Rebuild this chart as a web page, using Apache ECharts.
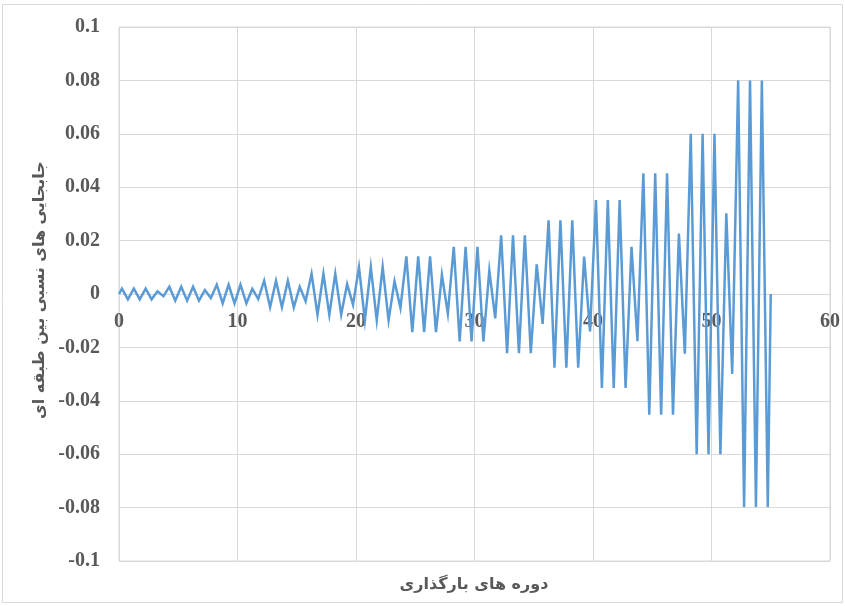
<!DOCTYPE html>
<html>
<head>
<meta charset="utf-8">
<script src="https://cdn.jsdelivr.net/npm/echarts@6/dist/echarts.min.js"></script>
<style>html,body{margin:0;padding:0;background:#fff;}#c{width:845px;height:606px;}</style>
</head>
<body>
<div id="c"></div>
<script>
// One peak and one trough per loading cycle (55 cycles)
const peaks = [
  0.0020, 0.0020, 0.0020, 0.0010,
  0.0027, 0.0027, 0.0027, 0.0015,
  0.0035, 0.0035, 0.0035, 0.0019,
  0.0050, 0.0050, 0.0050, 0.0027,
  0.0076, 0.0076, 0.0076, 0.0037,
  0.0101, 0.0101, 0.0101, 0.0048,
  0.0141, 0.0141, 0.0141, 0.0072,
  0.0177, 0.0177, 0.0177, 0.0088,
  0.0220, 0.0220, 0.0220, 0.0111,
  0.0276, 0.0276, 0.0276, 0.0140,
  0.0352, 0.0352, 0.0352, 0.0177,
  0.0452, 0.0452, 0.0452, 0.0226,
  0.0600, 0.0600, 0.0600, 0.0302,
  0.0800, 0.0800, 0.0800
];
const troughs = [
  -0.0020, -0.0020, -0.0020, -0.0008,
  -0.0025, -0.0025, -0.0025, -0.0015,
  -0.0035, -0.0035, -0.0035, -0.0019,
  -0.0050, -0.0050, -0.0050, -0.0027,
  -0.0078, -0.0078, -0.0078, -0.0040,
  -0.0098, -0.0098, -0.0098, -0.0052,
  -0.0143, -0.0143, -0.0143, -0.0073,
  -0.0178, -0.0178, -0.0178, -0.0091,
  -0.0222, -0.0222, -0.0222, -0.0112,
  -0.0276, -0.0276, -0.0276, -0.0140,
  -0.0352, -0.0352, -0.0352, -0.0177,
  -0.0452, -0.0452, -0.0452, -0.0224,
  -0.0600, -0.0600, -0.0600, -0.0299,
  -0.0798, -0.0798, -0.0798
];
const startPoint = [0, 0];
const endPoint = [55, 0];
const xTitle = 'دوره های بارگذاری';
const yTitle = 'جابجایی های نسبی بین طبقه ای';

const data = [startPoint];
for (let i = 0; i < peaks.length; i++) {
  data.push([i + 0.25, peaks[i]]);
  data.push([i + 0.75, troughs[i]]);
}
data.push(endPoint);

const chart = echarts.init(document.getElementById('c'), null, {renderer: 'canvas'});
const labelStyle = {fontFamily: '"Liberation Serif", "Times New Roman", serif', fontWeight: 'bold', fontSize: 20, color: '#595959'};
const gridTop = 27, gridBottom = 45, chartH = 606;
const plotH = chartH - gridTop - gridBottom;
chart.setOption({
  animation: false,
  backgroundColor: '#fff',
  grid: {left: 119, right: 15, top: gridTop, bottom: gridBottom, show: true, borderColor: '#d9d9d9', borderWidth: 1},
  xAxis: [{
    type: 'value', min: 0, max: 60, interval: 10,
    axisLine: {show: false},
    axisTick: {show: false},
    axisLabel: {show: false},
    splitLine: {show: true, lineStyle: {color: '#d9d9d9', width: 1}}
  }, {
    type: 'value', min: 0, max: 60, interval: 10, position: 'bottom',
    offset: -plotH / 2,
    axisLine: {show: true, onZero: false, lineStyle: {color: '#d9d9d9', width: 1}},
    axisTick: {show: false},
    axisLabel: Object.assign({margin: 18}, labelStyle),
    splitLine: {show: false}
  }],
  yAxis: {
    type: 'value', min: -0.1, max: 0.1, interval: 0.02,
    axisLine: {show: false},
    axisTick: {show: false},
    axisLabel: Object.assign({margin: 19, formatter: v => String(Math.round(v * 100) / 100)}, labelStyle),
    splitLine: {show: true, lineStyle: {color: '#d9d9d9', width: 1}}
  },
  series: [{
    type: 'line', data: data, xAxisIndex: 0, showSymbol: false, symbol: 'none',
    lineStyle: {color: '#5B9BD5', width: 2.5, join: 'miter'},
    itemStyle: {color: '#5B9BD5'}, z: 5
  }],
  graphic: [
    {type: 'rect', shape: {x: 2.5, y: 4.5, width: 840, height: 598}, style: {fill: 'none', stroke: '#d9d9d9', lineWidth: 1}, silent: true, z: -1},
    {type: 'text', x: 474, y: 585, style: {text: xTitle, fontFamily: '"DejaVu Sans", sans-serif', fontWeight: 'bold', fontSize: 16, fill: '#595959', align: 'center', verticalAlign: 'middle'}},
    {type: 'text', x: 40, y: 290, rotation: Math.PI / 2, style: {text: yTitle, fontFamily: '"DejaVu Sans", sans-serif', fontWeight: 'bold', fontSize: 16, fill: '#595959', align: 'center', verticalAlign: 'middle'}}
  ]
});
</script>
</body>
</html>
